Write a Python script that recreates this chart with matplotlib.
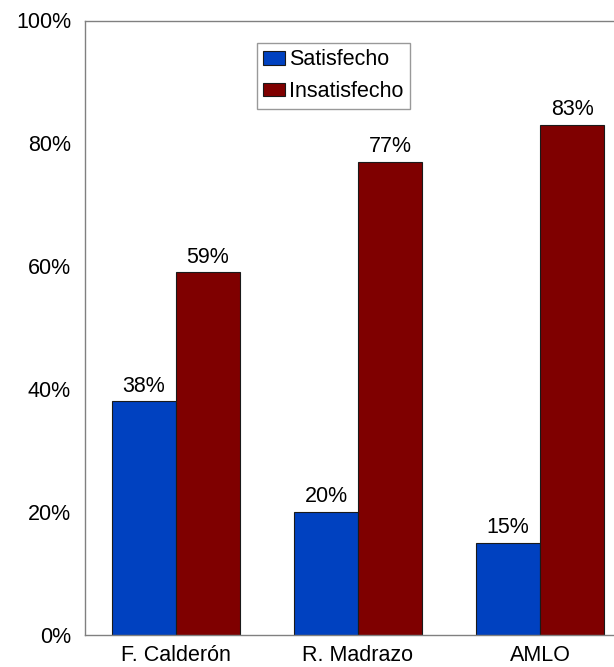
import matplotlib
matplotlib.use("Agg")
import matplotlib.pyplot as plt
import numpy as np

# data
candidates = ["F. Calderón", "R. Madrazo", "AMLO"]
satisfecho = [0.38, 0.20, 0.15]
insatisfecho = [0.59, 0.77, 0.83]
series_names = ["Satisfecho", "Insatisfecho"]
y_ticks = [0.0, 0.2, 0.4, 0.6, 0.8, 1.0]

plt.rcParams['font.family'] = ['Liberation Sans', 'DejaVu Sans']
FS = 15.5

W, H = 614, 667
fig = plt.figure(figsize=(W / 100, H / 100), dpi=100)
# axes run past the right edge of the image, as in the original
ax = fig.add_axes([85 / W, (H - 635) / H, (631 - 85) / W, (635 - 20.5) / H])

x = np.arange(len(candidates))
bw = 0.352
colours = ["#0041C0", "#7F0000"]
for i, (vals, name) in enumerate(zip([satisfecho, insatisfecho], series_names)):
    pos = x + (i - 0.5) * bw
    bars = ax.bar(pos, vals, bw, color=colours[i], edgecolor="#1a1a1a",
                  linewidth=0.8, label=name)
    for b, v in zip(bars, vals):
        ax.annotate(f"{v * 100:.0f}%", (b.get_x() + b.get_width() / 2, v),
                    xytext=(0, 3.5), textcoords="offset points",
                    ha="center", va="bottom", fontsize=FS)

ax.set_xlim(-0.5, 2.5)
ax.set_ylim(0, 1)
ax.set_yticks(y_ticks)
ax.set_yticklabels([f"{t * 100:.0f}%" for t in y_ticks])
ax.set_xticks(x)
ax.set_xticklabels(candidates)
ax.tick_params(axis="y", length=0, pad=10, labelsize=FS)
ax.tick_params(axis="x", length=0, pad=7, labelsize=FS)

for side in ["left", "top", "bottom", "right"]:
    ax.spines[side].set_color("#808080")
    ax.spines[side].set_linewidth(1.0)

leg = ax.legend(loc="upper left", bbox_to_anchor=(257 / W, 1 - 43 / H),
                bbox_transform=fig.transFigure, fontsize=FS, frameon=True,
                fancybox=False, shadow=False, framealpha=1,
                handlelength=1.0, handleheight=0.6, handletextpad=0.2,
                labelspacing=0.5, borderpad=0.3, borderaxespad=0)
leg.get_frame().set_edgecolor("#999999")
leg.get_frame().set_linewidth(1.0)

fig.savefig("out.png", dpi=100)
